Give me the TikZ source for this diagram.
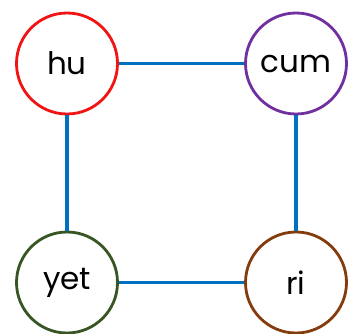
\documentclass[tikz,border=0pt]{standalone}
\usepackage{fontspec}
\setmainfont{Poppins}
\definecolor{hured}{RGB}{240,20,20}
\definecolor{cumpurple}{RGB}{112,48,160}
\definecolor{yetgreen}{RGB}{56,86,35}
\definecolor{ribrown}{RGB}{132,60,12}
\definecolor{edgeblue}{RGB}{0,112,192}
\tikzset{
  vtx/.style={circle,draw,line width=2.8pt,minimum size=101pt,inner sep=0pt,
    font=\fontsize{31}{31}\selectfont},
  edg/.style={edgeblue,line width=3.2pt}
}
\begin{document}
\begin{tikzpicture}[x=1pt,y=-1pt]
  \useasboundingbox (0,0) rectangle (362,334);
  \node[vtx,draw=hured] (hu) at (67,63.5) {hu};
  \node[vtx,draw=cumpurple] (cum) at (296,63.5) {cum};
  \node[vtx,draw=yetgreen] (yet) at (67,282.5) {yet};
  \node[vtx,draw=ribrown] (ri) at (296,282.5) {ri};
  \draw[edg] (hu) -- (cum);
  \draw[edg] (hu) -- (yet);
  \draw[edg] (cum) -- (ri);
  \draw[edg] (yet) -- (ri);
\end{tikzpicture}
\end{document}
